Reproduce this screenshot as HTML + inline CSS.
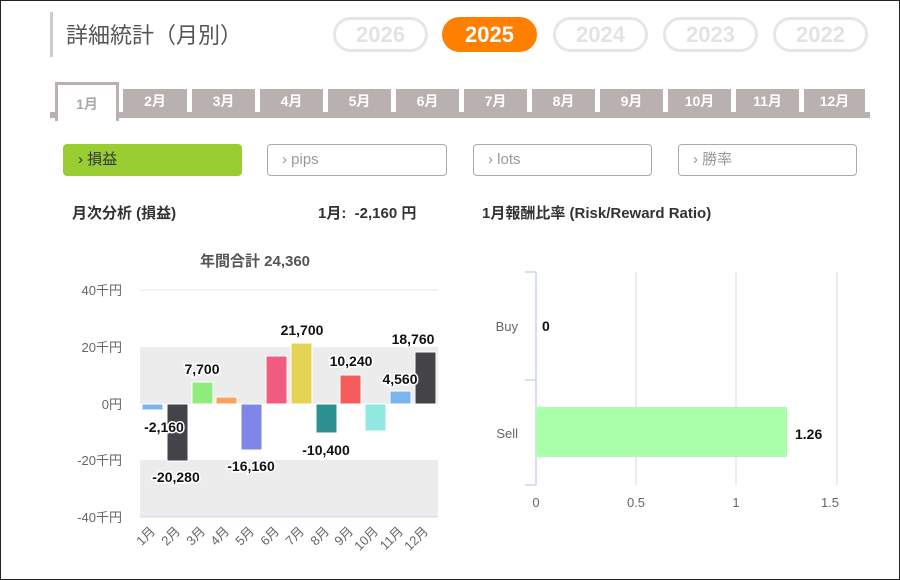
<!DOCTYPE html>
<html><head><meta charset="utf-8"><style>
body{margin:0;width:900px;height:580px;overflow:hidden;background:#fff;font-family:"Liberation Sans","Noto Sans CJK JP",sans-serif}
.frame{position:absolute;left:0;top:0;width:898px;height:578px;border:1px solid #222}
.a{position:absolute}
.pill{position:absolute;top:17px;width:89px;height:29px;border:3px solid #e6e6e6;border-radius:18px;color:#e3e3e3;font-weight:bold;font-size:22px;text-align:center;line-height:29px}
.tab{position:absolute;top:89px;height:23px;background:#b9b0b0;color:#fff;font-size:14px;font-weight:bold;text-align:center;line-height:25px}
.btn{position:absolute;top:144px;height:30px;border:1px solid #aaa;border-radius:4px;color:#999;font-size:15px;line-height:30px;padding-left:14px;box-sizing:border-box;height:32px}
</style></head><body>
<div class="frame"></div>
<div class="a" style="left:50px;top:12px;width:3px;height:45px;background:#ccc"></div>
<div class="a" style="left:66px;top:18px;font-size:22px;color:#555">詳細統計（月別）</div>
<div class="pill" style="left:333px">2026</div>
<div class="pill" style="left:442px;background:#ff8000;border-color:#ff8000;color:#fff">2025</div>
<div class="pill" style="left:553px">2024</div>
<div class="pill" style="left:663px">2023</div>
<div class="pill" style="left:773px">2022</div>
<div class="a" style="left:50px;top:112px;width:820px;height:6px;background:#b9b0b0"></div>
<div class="a" style="left:55px;top:82px;width:58px;height:36px;background:#fff;border:3px solid #b9b0b0;border-bottom:none;color:#aaa;font-size:14px;font-weight:bold;text-align:center;line-height:38px">1月</div>
<div class="tab" style="left:123px;width:64px">2月</div>
<div class="tab" style="left:192px;width:63px">3月</div>
<div class="tab" style="left:260px;width:63px">4月</div>
<div class="tab" style="left:328px;width:63px">5月</div>
<div class="tab" style="left:396px;width:63px">6月</div>
<div class="tab" style="left:464px;width:63px">7月</div>
<div class="tab" style="left:532px;width:63px">8月</div>
<div class="tab" style="left:600px;width:63px">9月</div>
<div class="tab" style="left:668px;width:63px">10月</div>
<div class="tab" style="left:736px;width:63px">11月</div>
<div class="tab" style="left:804px;width:61px">12月</div>
<div class="btn" style="left:63px;width:179px;background:#9acd32;border-color:#9acd32;color:#333">› 損益</div>
<div class="btn" style="left:267px;width:180px">› pips</div>
<div class="btn" style="left:473px;width:179px">› lots</div>
<div class="btn" style="left:678px;width:179px">› 勝率</div>
<div class="a" style="left:72px;top:202px;font-size:15px;font-weight:bold;color:#333">月次分析 (損益)</div>
<div class="a" style="left:318px;top:202px;font-size:15px;font-weight:bold;color:#333">1月:&nbsp; -2,160 円</div>
<div class="a" style="left:482px;top:202px;font-size:15px;font-weight:bold;color:#333">1月報酬比率 (Risk/Reward Ratio)</div>
<svg class="a" style="left:0;top:0" width="900" height="580" font-family="Liberation Sans, Noto Sans CJK JP, sans-serif">
<text x="255" y="266" text-anchor="middle" font-size="15" font-weight="bold" fill="#555">年間合計 24,360</text>
<rect x="140" y="347" width="298" height="57" fill="#ececec"/>
<rect x="140" y="460" width="298" height="57" fill="#ececec"/>
<line x1="140" y1="290" x2="438" y2="290" stroke="#e6e6e6"/>
<line x1="140" y1="517" x2="438" y2="517" stroke="#ccd6eb"/>
<g font-size="13" fill="#666" text-anchor="end">
<text x="122" y="295">40千円</text><text x="122" y="352">20千円</text><text x="122" y="409">0円</text><text x="122" y="465">-20千円</text><text x="122" y="522">-40千円</text></g>
<g stroke="#fff" stroke-width="1">
<rect x="142" y="404" width="21" height="6" fill="#7cb5ec"/>
<rect x="167" y="404" width="21" height="57" fill="#434348"/>
<rect x="192" y="382" width="21" height="22" fill="#90ed7d"/>
<rect x="216" y="397" width="21" height="7" fill="#f7a35c"/>
<rect x="241" y="404" width="21" height="46" fill="#8085e9"/>
<rect x="266" y="356" width="21" height="48" fill="#f15c80"/>
<rect x="291" y="343" width="21" height="61" fill="#e4d354"/>
<rect x="316" y="404" width="21" height="29" fill="#2b908f"/>
<rect x="340" y="375" width="21" height="29" fill="#f45b5b"/>
<rect x="365" y="404" width="21" height="27" fill="#91e8e1"/>
<rect x="390" y="391" width="21" height="13" fill="#7cb5ec"/>
<rect x="415" y="352" width="21" height="52" fill="#434348"/>
</g>
<g font-size="14" font-weight="bold" fill="#111" stroke="#fff" stroke-width="3" paint-order="stroke" text-anchor="middle">
<text x="164" y="432">-2,160</text>
<text x="176" y="482">-20,280</text>
<text x="202" y="374">7,700</text>
<text x="251" y="471">-16,160</text>
<text x="302" y="335">21,700</text>
<text x="326" y="455">-10,400</text>
<text x="351" y="366">10,240</text>
<text x="400" y="384">4,560</text>
<text x="413" y="344">18,760</text>
</g>
<g font-size="13" fill="#666" text-anchor="end">
<text transform="translate(156,532) rotate(-45)">1月</text>
<text transform="translate(181,532) rotate(-45)">2月</text>
<text transform="translate(206,532) rotate(-45)">3月</text>
<text transform="translate(230,532) rotate(-45)">4月</text>
<text transform="translate(255,532) rotate(-45)">5月</text>
<text transform="translate(280,532) rotate(-45)">6月</text>
<text transform="translate(305,532) rotate(-45)">7月</text>
<text transform="translate(330,532) rotate(-45)">8月</text>
<text transform="translate(354,532) rotate(-45)">9月</text>
<text transform="translate(379,532) rotate(-45)">10月</text>
<text transform="translate(404,532) rotate(-45)">11月</text>
<text transform="translate(429,532) rotate(-45)">12月</text>
</g>
<g stroke="#e6e6e6" stroke-width="1.5">
<line x1="636" y1="272" x2="636" y2="485"/><line x1="736" y1="272" x2="736" y2="485"/><line x1="837" y1="272" x2="837" y2="485"/></g>
<g stroke="#ccd6eb" stroke-width="1.5" fill="none">
<line x1="536" y1="272" x2="536" y2="485"/>
<line x1="525" y1="272" x2="536" y2="272"/><line x1="525" y1="380" x2="536" y2="380"/><line x1="525" y1="485" x2="536" y2="485"/></g>
<rect x="536" y="407" width="251" height="50" fill="#aaffaa"/>
<g font-size="13" fill="#666">
<text x="518" y="331" text-anchor="end">Buy</text><text x="518" y="438" text-anchor="end">Sell</text>
<text x="536" y="507" text-anchor="middle">0</text><text x="636" y="507" text-anchor="middle">0.5</text>
<text x="736" y="507" text-anchor="middle">1</text><text x="830" y="507" text-anchor="middle">1.5</text></g>
<g font-size="14" font-weight="bold" fill="#111">
<text x="542" y="331">0</text><text x="795" y="439">1.26</text></g>
</svg>
</body></html>
